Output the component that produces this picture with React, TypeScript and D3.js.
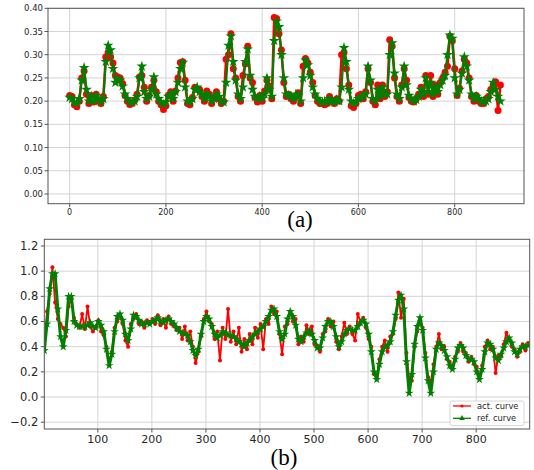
import React from "react";
import * as d3 from "d3";

// ---------- data: subplot (a), sampled every 5 indices from 0 ----------
const topRef = [
  0.208, 0.205, 0.197, 0.195, 0.205, 0.245, 0.272, 0.225, 0.200, 0.210,
  0.200, 0.212, 0.205, 0.198, 0.205, 0.285, 0.320, 0.310, 0.270, 0.240,
  0.248, 0.245, 0.232, 0.215, 0.205, 0.198, 0.198, 0.200, 0.210, 0.250,
  0.275, 0.220, 0.205, 0.210, 0.225, 0.252, 0.215, 0.205, 0.198, 0.193,
  0.198, 0.210, 0.215, 0.205, 0.220, 0.240, 0.270, 0.283, 0.230, 0.200,
  0.198, 0.205, 0.225, 0.230, 0.220, 0.215, 0.205, 0.215, 0.210, 0.200,
  0.205, 0.215, 0.210, 0.200, 0.198, 0.240, 0.320, 0.340, 0.285, 0.245,
  0.215, 0.205, 0.230, 0.285, 0.312, 0.255, 0.225, 0.210, 0.205, 0.210,
  0.205, 0.215, 0.250, 0.225, 0.210, 0.330, 0.372, 0.360, 0.300, 0.250,
  0.215, 0.212, 0.210, 0.205, 0.215, 0.212, 0.200, 0.250, 0.288, 0.278,
  0.255, 0.230, 0.215, 0.205, 0.200, 0.198, 0.200, 0.198, 0.205, 0.200,
  0.198, 0.203, 0.200, 0.230, 0.315, 0.285, 0.225, 0.200, 0.195, 0.198,
  0.205, 0.208, 0.210, 0.215, 0.275, 0.245, 0.205, 0.200, 0.225, 0.210,
  0.230, 0.215, 0.215, 0.300, 0.325, 0.260, 0.215, 0.205, 0.230, 0.275,
  0.235, 0.212, 0.205, 0.200, 0.203, 0.210, 0.225, 0.215, 0.250, 0.220,
  0.240, 0.215, 0.230, 0.220, 0.235, 0.245, 0.255, 0.300, 0.342, 0.335,
  0.250, 0.215, 0.225, 0.260, 0.295, 0.275, 0.245, 0.215, 0.205, 0.210,
  0.205, 0.200, 0.198, 0.200, 0.205, 0.220, 0.240, 0.225, 0.210, 0.200,
];
const topAct = [
  0.212, 0.210, 0.192, 0.188, 0.200, 0.250, 0.265, 0.215, 0.195, 0.212,
  0.198, 0.215, 0.200, 0.195, 0.210, 0.295, 0.305, 0.295, 0.282, 0.255,
  0.252, 0.250, 0.238, 0.212, 0.200, 0.193, 0.195, 0.202, 0.215, 0.252,
  0.255, 0.230, 0.200, 0.212, 0.230, 0.245, 0.220, 0.200, 0.192, 0.182,
  0.190, 0.212, 0.220, 0.200, 0.222, 0.250, 0.283, 0.285, 0.245, 0.195,
  0.192, 0.208, 0.230, 0.225, 0.225, 0.210, 0.200, 0.222, 0.215, 0.195,
  0.208, 0.220, 0.205, 0.195, 0.200, 0.290, 0.300, 0.345, 0.270, 0.250,
  0.210, 0.200, 0.255, 0.280, 0.318, 0.250, 0.240, 0.208, 0.198, 0.212,
  0.200, 0.222, 0.245, 0.232, 0.205, 0.380, 0.378, 0.345, 0.310, 0.240,
  0.210, 0.215, 0.205, 0.200, 0.210, 0.218, 0.195, 0.275, 0.292, 0.282,
  0.262, 0.240, 0.212, 0.200, 0.195, 0.195, 0.192, 0.195, 0.210, 0.198,
  0.195, 0.205, 0.200, 0.300, 0.305, 0.270, 0.235, 0.190, 0.186, 0.195,
  0.212, 0.215, 0.205, 0.220, 0.270, 0.240, 0.200, 0.192, 0.235, 0.205,
  0.235, 0.210, 0.220, 0.332, 0.318, 0.250, 0.210, 0.200, 0.235, 0.270,
  0.245, 0.208, 0.200, 0.198, 0.205, 0.215, 0.230, 0.210, 0.255, 0.215,
  0.255, 0.210, 0.235, 0.215, 0.240, 0.250, 0.262, 0.275, 0.340, 0.330,
  0.270, 0.212, 0.228, 0.265, 0.290, 0.282, 0.250, 0.210, 0.200, 0.212,
  0.200, 0.195, 0.195, 0.205, 0.210, 0.225, 0.235, 0.242, 0.180, 0.235,
];
const topXTicks = [0, 200, 400, 600, 800];
const topYTicks = [0.0, 0.05, 0.1, 0.15, 0.2, 0.25, 0.3, 0.35, 0.4];

// ---------- data: subplot (b), sampled every 5 indices from 1 ----------
const botRef = [
  0.37, 0.58, 0.86, 0.98, 0.98, 0.70, 0.48, 0.40, 0.53, 0.80,
  0.80, 0.60, 0.57, 0.56, 0.56, 0.56, 0.57, 0.59, 0.56, 0.55,
  0.60, 0.57, 0.52, 0.38, 0.25, 0.34, 0.52, 0.64, 0.66, 0.61,
  0.50, 0.45, 0.54, 0.65, 0.64, 0.61, 0.58, 0.58, 0.59, 0.58,
  0.60, 0.61, 0.63, 0.60, 0.59, 0.61, 0.62, 0.60, 0.58, 0.55,
  0.52, 0.51, 0.50, 0.49, 0.44, 0.37, 0.33, 0.38, 0.50, 0.60,
  0.64, 0.62, 0.56, 0.50, 0.47, 0.49, 0.52, 0.51, 0.49, 0.49,
  0.48, 0.46, 0.44, 0.42, 0.40, 0.43, 0.45, 0.48, 0.50, 0.52,
  0.54, 0.56, 0.60, 0.64, 0.69, 0.70, 0.64, 0.52, 0.46, 0.50,
  0.62, 0.68, 0.64, 0.57, 0.46, 0.44, 0.48, 0.51, 0.53, 0.50,
  0.45, 0.39, 0.39, 0.47, 0.56, 0.60, 0.60, 0.56, 0.48, 0.40,
  0.44, 0.50, 0.53, 0.54, 0.53, 0.53, 0.56, 0.59, 0.61, 0.58,
  0.50, 0.36, 0.20, 0.14, 0.26, 0.36, 0.40, 0.41, 0.44, 0.52,
  0.65, 0.77, 0.81, 0.70, 0.28, 0.03, 0.18, 0.42, 0.56, 0.63,
  0.53, 0.31, 0.13, 0.03, 0.20, 0.38, 0.43, 0.41, 0.37, 0.32,
  0.25, 0.22, 0.30, 0.39, 0.41, 0.39, 0.33, 0.30, 0.30, 0.28,
  0.20, 0.14, 0.22, 0.36, 0.43, 0.42, 0.38, 0.31, 0.29, 0.34,
  0.39, 0.44, 0.47, 0.43, 0.36, 0.34, 0.38, 0.40, 0.40, 0.41,
];
const botAct = [
  0.42, 0.68, 0.82, 1.03, 0.75, 0.62, 0.58, 0.55, 0.48, 0.72,
  0.78, 0.63, 0.58, 0.55, 0.66, 0.54, 0.72, 0.56, 0.52, 0.55,
  0.61, 0.52, 0.49, 0.40, 0.28, 0.36, 0.55, 0.60, 0.65, 0.58,
  0.45, 0.40, 0.58, 0.62, 0.66, 0.58, 0.60, 0.55, 0.61, 0.58,
  0.62, 0.58, 0.65, 0.57, 0.62, 0.55, 0.64, 0.58, 0.56, 0.53,
  0.55, 0.46, 0.56, 0.45, 0.52, 0.40, 0.27, 0.36, 0.48, 0.62,
  0.68, 0.60, 0.58, 0.46, 0.52, 0.29, 0.55, 0.46, 0.70, 0.44,
  0.52, 0.42, 0.55, 0.36, 0.46, 0.38, 0.50, 0.42, 0.55, 0.47,
  0.58, 0.38, 0.62, 0.58, 0.72, 0.66, 0.68, 0.50, 0.34, 0.56,
  0.58, 0.68, 0.60, 0.62, 0.42, 0.48, 0.44, 0.57, 0.50, 0.56,
  0.42, 0.41, 0.36, 0.50, 0.52, 0.62, 0.56, 0.60, 0.44, 0.38,
  0.48, 0.59, 0.50, 0.56, 0.50, 0.45, 0.66, 0.60, 0.63, 0.55,
  0.46, 0.40, 0.18, 0.16, 0.30, 0.40, 0.45, 0.36, 0.48, 0.50,
  0.62, 0.83, 0.63, 0.78, 0.35, 0.15, 0.13, 0.40, 0.52, 0.62,
  0.55, 0.35, 0.16, 0.12, 0.26, 0.40, 0.50, 0.38, 0.40, 0.30,
  0.28, 0.24, 0.32, 0.36, 0.43, 0.36, 0.35, 0.28, 0.32, 0.26,
  0.24, 0.16, 0.25, 0.40, 0.45, 0.38, 0.40, 0.19, 0.33, 0.32,
  0.42, 0.51, 0.45, 0.40, 0.38, 0.32, 0.36, 0.42, 0.37, 0.43,
];
const botXTicks = [100, 200, 300, 400, 500, 600, 700, 800];
const botYTicks = [-0.2, 0.0, 0.2, 0.4, 0.6, 0.8, 1.0, 1.2];
const legendLabels = ["act. curve", "ref. curve"];

const RED = "#ff0000";
const GREEN = "#008000";
const GRID = "#d4d4d4";
const SPINE = "#555";
const TICK_TXT = "#262626";
const SANS = "DejaVu Sans, sans-serif";

function App() {
  // ----- subplot (a) -----
  const aL = 48, aR = 524, aT = 8.3, aB = 203.7;
  const ax = d3.scaleLinear().domain([-45, 944]).range([aL, aR]);
  const ay = d3.scaleLinear().domain([-0.021, 0.4]).range([aB, aT]);
  const topPts = (arr: number[]) => arr.map((v, i) => [i * 5, v] as [number, number]);
  const aLine = d3.line<[number, number]>().x((d) => ax(d[0])).y((d) => ay(d[1]));
  const starA = d3.symbol().type(d3.symbolStar).size(36)() as string;

  // ----- subplot (b) -----
  const bL = 44.3, bR = 529.7, bT = 239.3, bB = 429;
  const bx = d3.scaleLinear().domain([1, 899]).range([bL, bR]);
  const by = d3.scaleLinear().domain([-0.254, 1.253]).range([bB, bT]);
  const botPts = (arr: number[]) => arr.map((v, i) => [1 + i * 5, v] as [number, number]);
  const bLine = d3.line<[number, number]>().x((d) => bx(d[0])).y((d) => by(d[1]));
  const starB = d3.symbol().type(d3.symbolStar).size(24)() as string;
  const triLeg = d3.symbol().type(d3.symbolTriangle).size(14)() as string;

  const fmtA = d3.format(".2f");
  const fmtB = (v: number) => d3.format(".1f")(v).replace("-", "\u2212");

  return (
    <svg width={534} height={470} style={{ position: "absolute", left: 0, top: 0, background: "#fff" }}>
      <rect x={0} y={0} width={534} height={470} fill="#fff" />
      <defs>
        <clipPath id="clipA"><rect x={aL} y={aT - 6} width={aR - aL} height={aB - aT + 6} /></clipPath>
        <clipPath id="clipB"><rect x={bL} y={bT} width={bR - bL} height={bB - bT} /></clipPath>
      </defs>
      {/* ===== (a) ===== */}
      {topXTicks.map((t) => (
        <line key={"agx" + t} x1={ax(t)} x2={ax(t)} y1={aT} y2={aB} stroke={GRID} strokeWidth={1} />
      ))}
      {topYTicks.map((t) => (
        <line key={"agy" + t} x1={aL} x2={aR} y1={ay(t)} y2={ay(t)} stroke={GRID} strokeWidth={1} />
      ))}
      <g clipPath="url(#clipA)">
        <path d={aLine(topPts(topAct)) as string} fill="none" stroke={RED} strokeWidth={2.5} strokeLinejoin="round" />
        {topPts(topAct).map((d, i) => (
          <circle key={"ac" + i} cx={ax(d[0])} cy={ay(d[1])} r={3.5} fill={RED} />
        ))}
        <path d={aLine(topPts(topRef)) as string} fill="none" stroke={GREEN} strokeWidth={2.2} strokeLinejoin="round" />
        {topPts(topRef).map((d, i) => (
          <path key={"as" + i} d={starA} transform={`translate(${ax(d[0])},${ay(d[1])})`} fill={GREEN} />
        ))}
      </g>
      <rect x={aL} y={aT} width={aR - aL} height={aB - aT} fill="none" stroke={SPINE} strokeWidth={1} />
      {topXTicks.map((t) => (
        <g key={"axt" + t}>
          <line x1={ax(t)} x2={ax(t)} y1={aB} y2={aB + 3.5} stroke={SPINE} />
          <text x={ax(t)} y={aB + 11} fontSize={8} fontFamily={SANS} fill={TICK_TXT} textAnchor="middle">{t}</text>
        </g>
      ))}
      {topYTicks.map((t) => (
        <g key={"ayt" + t}>
          <line x1={aL - 3.5} x2={aL} y1={ay(t)} y2={ay(t)} stroke={SPINE} />
          <text x={aL - 5} y={ay(t) + 3} fontSize={8.5} fontFamily={SANS} fill={TICK_TXT} textAnchor="end">{fmtA(t)}</text>
        </g>
      ))}
      <text x={300} y={227} fontSize={23} fontFamily="Liberation Serif, Times New Roman, serif" textAnchor="middle" fill="#000">(a)</text>

      {/* ===== (b) ===== */}
      {botXTicks.map((t) => (
        <line key={"bgx" + t} x1={bx(t)} x2={bx(t)} y1={bT} y2={bB} stroke={GRID} strokeWidth={1} />
      ))}
      {botYTicks.map((t) => (
        <line key={"bgy" + t} x1={bL} x2={bR} y1={by(t)} y2={by(t)} stroke={GRID} strokeWidth={1} />
      ))}
      <g clipPath="url(#clipB)">
        <path d={bLine(botPts(botAct)) as string} fill="none" stroke={RED} strokeWidth={1.8} strokeLinejoin="round" />
        {botPts(botAct).map((d, i) => (
          <circle key={"bc" + i} cx={bx(d[0])} cy={by(d[1])} r={2} fill={RED} />
        ))}
        <path d={bLine(botPts(botRef)) as string} fill="none" stroke={GREEN} strokeWidth={3} strokeLinejoin="round" />
        {botPts(botRef).map((d, i) => (
          <path key={"bs" + i} d={starB} transform={`translate(${bx(d[0])},${by(d[1])})`} fill={GREEN} />
        ))}
      </g>
      <rect x={bL} y={bT} width={bR - bL} height={bB - bT} fill="none" stroke={SPINE} strokeWidth={1} />
      {botXTicks.map((t) => (
        <g key={"bxt" + t}>
          <line x1={bx(t)} x2={bx(t)} y1={bB} y2={bB + 3.5} stroke={SPINE} />
          <text x={bx(t)} y={bB + 14} fontSize={11} fontFamily={SANS} fill={TICK_TXT} textAnchor="middle">{t}</text>
        </g>
      ))}
      {botYTicks.map((t) => (
        <g key={"byt" + t}>
          <line x1={bL - 3.5} x2={bL} y1={by(t)} y2={by(t)} stroke={SPINE} />
          <text x={bL - 6} y={by(t) + 4} fontSize={11.5} fontFamily={SANS} fill={TICK_TXT} textAnchor="end">{fmtB(t)}</text>
        </g>
      ))}
      {/* legend */}
      <g>
        <rect x={450} y={401} width={74} height={24.5} rx={2} fill="#fff" fillOpacity={0.85} stroke="#ccc" strokeWidth={0.8} />
        <line x1={453} x2={471} y1={406} y2={406} stroke={RED} strokeWidth={1.3} />
        <circle cx={462} cy={406} r={1.6} fill={RED} />
        <text x={477} y={409} fontSize={8.3} fontFamily={SANS} fill={TICK_TXT}>{legendLabels[0]}</text>
        <line x1={453} x2={471} y1={418.3} y2={418.3} stroke={GREEN} strokeWidth={1.3} />
        <path d={triLeg} transform="translate(462,418.3)" fill={GREEN} />
        <text x={477} y={421.3} fontSize={8.3} fontFamily={SANS} fill={TICK_TXT}>{legendLabels[1]}</text>
      </g>
      <text x={284} y={465} fontSize={23} fontFamily="Liberation Serif, Times New Roman, serif" textAnchor="middle" fill="#000">(b)</text>
    </svg>
  );
}

export default App;
